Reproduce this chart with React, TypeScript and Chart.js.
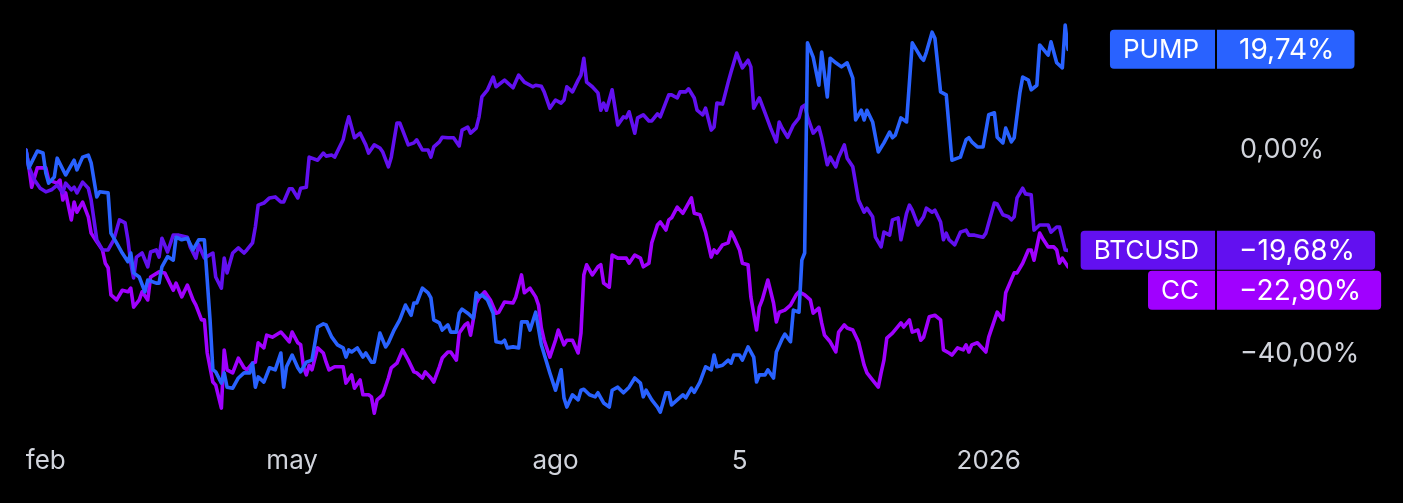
import React, { useEffect, useRef } from "react";
import { Chart, registerables } from "chart.js";

Chart.register(...registerables);

// Day offsets (from late January 2025) and % change for each series
const pumpDays = [0,1,4,6,7,8,10,11,14,17,18,20,22,23,25,26,29,30,32,34,36,37,38,40,42,43,46,47,48,50,52,53,55,57,59,61,63,65,66,67,69,70,71,73,75,77,79,80,81,82,84,86,88,90,91,92,94,96,97,99,101,103,105,106,108,110,112,113,114,115,117,119,120,122,123,125,127,128,130,132,134,136,137,138,140,142,143,144,146,147,149,150,152,153,154,156,158,159,160,161,163,165,166,168,169,170,172,174,175,177,178,180,182,185,187,189,190,191,193,195,196,197,199,201,202,204,206,207,209,211,213,215,217,218,219,221,223,224,226,227,228,230,232,233,235,236,238,240,242,243,244,246,248,249,250,252,253,255,257,258,259,261,262,264,265,267,268,270,271,273,274,275,276,278,280,281,283,284,286,288,290,292,293,295,296,297,299,301,303,305,306,307,309,311,313,316,317,318,320,321,323,325,327,329,330,332,333,334,336,338,340,342,343,345,346,348,349,351,352,354,355,357,358,361,362,364,366,367,368];
const pumpValues = [0,-3.5,-0.2,-0.6,-4.5,-6.5,-5.3,-1.6,-4.9,-2.0,-3.9,-1.4,-1.0,-2.5,-9.2,-8.2,-8.4,-16.3,-18.2,-20.2,-21.9,-20.2,-24.1,-24.9,-27.8,-25.5,-26.1,-26.1,-22.9,-20.9,-21.6,-17.1,-17.6,-17.3,-19.6,-17.6,-17.6,-33.3,-43.1,-43.5,-45.7,-43.7,-46.5,-46.7,-44.7,-43.7,-43.7,-41.8,-46.5,-44.5,-45.5,-42.7,-43.1,-39.8,-46.5,-42.5,-40.2,-42.7,-43.5,-41.6,-41.2,-34.7,-34.1,-34.3,-36.7,-38.2,-38.8,-40.6,-39.2,-39.6,-38.8,-40.6,-39.8,-41.6,-41.6,-35.9,-38.6,-37.8,-35.3,-33.3,-30.4,-32.4,-30.0,-30.0,-27.1,-28.0,-29.0,-33.3,-33.9,-35.3,-34.3,-35.7,-35.7,-32.0,-31.2,-32.0,-33.0,-28.0,-28.8,-28.4,-29.4,-32.0,-37.6,-37.8,-37.3,-38.8,-38.6,-38.8,-33.7,-33.7,-35.3,-31.8,-38.2,-43.7,-47.1,-43.1,-48.6,-50.4,-48.0,-49.0,-47.1,-46.9,-48.0,-48.4,-47.6,-49.6,-50.4,-47.1,-46.5,-47.6,-46.5,-44.7,-45.7,-48.4,-47.1,-49.0,-50.4,-51.4,-47.6,-47.6,-50.0,-49.0,-48.0,-48.6,-46.7,-47.5,-45.5,-42.5,-43.1,-40.2,-42.5,-42.2,-41.2,-41.8,-40.2,-40.2,-41.2,-38.6,-40.6,-45.5,-44.1,-44.1,-43.1,-44.7,-39.6,-37.1,-36.1,-37.6,-31.4,-31.8,-21.6,-20.2,21.0,18.2,12.7,19.2,10.4,18.0,17.1,16.3,17.1,14.1,5.9,7.8,5.9,7.8,5.5,-0.4,1.4,3.5,2.4,2.9,6.3,5.5,21.0,18.2,17.6,19.2,23.1,21.9,11.4,10.8,-2.0,-1.6,-1.4,2.0,2.4,1.6,0.6,0.6,6.9,7.3,2.5,1.4,4.3,1.6,2.4,11.2,14.3,13.7,11.8,12.7,20.6,18.6,21.2,17.1,16.1,24.5,19.74];

const btcDays = [0,1,3,5,7,9,11,13,14,16,17,18,20,22,23,24,25,27,29,31,33,35,36,37,38,39,41,43,44,46,47,48,50,52,54,57,58,60,61,63,66,67,69,70,71,73,75,77,78,80,81,82,84,86,88,90,91,93,94,96,97,99,100,103,105,106,108,109,112,113,114,116,118,120,121,123,125,126,128,129,131,132,133,135,137,138,140,142,143,144,146,147,149,151,153,154,156,157,159,160,161,163,165,166,169,172,174,176,179,180,182,183,185,187,189,190,191,193,195,196,197,198,200,202,203,204,205,207,209,211,212,213,215,216,218,220,221,223,224,226,227,228,230,231,233,234,236,237,239,240,242,243,244,246,248,249,251,253,255,256,257,259,261,263,265,266,267,269,271,273,274,275,276,278,280,281,283,284,286,287,289,290,292,294,296,297,299,300,302,303,305,306,308,309,311,312,313,315,317,318,320,321,323,324,325,326,328,330,332,333,335,338,339,340,342,343,345,347,348,349,350,352,353,355,356,358,361,362,364,365,367,368];
const btcValues = [0,-3.3,-5.9,-7.5,-8.2,-7.8,-6.9,-8.4,-6.5,-7.8,-7.3,-8.4,-6.3,-7.5,-9.8,-13.7,-17.6,-19.6,-19.6,-17.6,-13.7,-14.3,-17.6,-22.2,-25.1,-21.0,-20.2,-22.9,-20.0,-19.6,-21.0,-17.3,-20.0,-16.7,-16.7,-17.1,-19.0,-21.2,-18.6,-21.2,-20.2,-24.9,-27.1,-21.2,-24.1,-20.2,-19.2,-20.2,-19.6,-18.2,-15.1,-10.8,-10.4,-9.4,-9.2,-10.2,-10.2,-7.6,-7.6,-9.4,-7.5,-7.3,-1.4,-2.0,-0.6,-1.2,-1.0,-1.4,2.0,4.5,6.5,2.4,3.3,1.0,-0.6,1.0,0.4,-0.4,-3.3,-1.4,5.3,5.3,3.9,1.0,1.4,2.0,0.0,0.0,-1.4,0.6,1.6,2.5,2.4,2.4,0.8,3.9,4.5,3.3,4.3,6.5,10.4,11.8,14.3,12.4,13.7,12.2,14.7,13.3,12.4,12.7,12.5,11.4,8.2,9.8,9.2,9.8,12.4,11.4,13.7,14.7,18.0,13.3,12.4,11.2,7.8,9.2,7.8,11.8,4.9,6.5,6.3,7.5,3.3,6.3,6.9,5.7,5.7,7.1,6.5,9.4,10.8,10.8,10.2,11.4,11.4,12.0,10.2,7.8,6.9,8.2,3.9,4.5,9.2,9.0,13.3,15.3,19.0,16.1,17.6,16.3,8.2,10.2,7.3,4.3,1.6,5.5,4.3,2.5,4.9,6.3,8.4,8.8,6.5,3.3,4.5,2.4,-2.9,-1.4,-3.3,-1.4,1.0,-1.6,-3.3,-9.8,-12.2,-11.4,-13.1,-17.1,-19.0,-16.1,-16.7,-13.7,-13.3,-17.6,-12.4,-10.8,-11.8,-14.7,-13.1,-11.4,-12.2,-11.8,-14.1,-17.6,-16.3,-17.6,-18.6,-16.1,-15.7,-16.7,-16.7,-17.1,-16.3,-14.3,-10.4,-10.6,-12.7,-13.1,-13.7,-13.1,-9.4,-7.5,-8.6,-8.8,-15.7,-14.7,-14.7,-16.1,-15.1,-15.1,-19.6,-19.68];

const ccDays = [0,1,2,4,7,8,11,12,13,14,16,17,18,20,22,23,25,27,28,29,30,32,34,36,37,38,40,41,43,44,47,49,52,53,55,57,59,60,62,63,64,66,67,69,70,71,73,75,77,78,80,81,82,84,85,87,90,91,93,94,96,97,98,99,100,101,103,105,106,107,109,112,113,115,116,118,119,121,122,123,124,126,128,129,131,133,135,137,138,140,141,143,144,146,147,149,150,152,153,155,156,157,159,160,162,164,166,167,169,172,173,175,176,178,180,181,182,183,185,187,188,190,191,193,195,196,197,198,200,202,203,204,206,207,209,212,213,215,217,218,220,221,223,224,226,227,228,230,232,233,235,236,238,240,242,243,244,246,248,249,250,252,253,255,256,258,259,260,262,264,265,266,268,270,272,273,275,277,278,280,281,282,284,286,287,289,290,292,294,296,297,299,301,302,303,304,306,309,310,312,313,315,316,317,319,321,323,324,326,327,329,331,332,333,334,336,339,340,343,345,346,349,350,352,354,355,356,358,359,361,363,364,365,366,368];
const ccValues = [0,-3.3,-7.3,-3.5,-3.5,-5.9,-6.5,-5.9,-9.8,-8.4,-13.7,-10.2,-12.2,-10.2,-13.1,-16.3,-18.0,-19.6,-22.2,-23.1,-28.4,-29.4,-27.5,-27.8,-27.1,-30.8,-29.4,-27.8,-29.4,-24.9,-23.9,-24.1,-27.5,-26.1,-28.8,-26.5,-29.4,-30.4,-33.3,-33.3,-39.8,-45.5,-46.1,-50.6,-39.2,-43.1,-43.7,-40.8,-42.7,-43.1,-41.8,-41.6,-37.8,-38.8,-36.3,-36.7,-35.7,-36.3,-37.6,-35.7,-37.8,-38.2,-42.5,-44.1,-42.2,-43.1,-38.8,-39.8,-41.6,-43.1,-42.5,-42.5,-45.7,-44.1,-46.7,-45.1,-48.0,-48.0,-48.4,-51.6,-49.0,-48.0,-44.7,-42.7,-41.8,-39.2,-41.2,-43.5,-43.7,-44.7,-43.5,-44.7,-45.5,-42.5,-40.8,-39.6,-39.6,-41.2,-35.9,-34.3,-33.9,-36.3,-30.0,-29.0,-27.8,-29.4,-32.0,-31.8,-29.8,-30.0,-28.8,-24.5,-28.0,-27.1,-28.8,-30.4,-34.9,-37.3,-40.6,-37.3,-35.3,-38.2,-37.3,-37.3,-39.8,-35.9,-24.5,-22.5,-24.5,-22.9,-22.5,-26.1,-26.9,-20.6,-21.2,-21.2,-22.2,-20.6,-21.2,-22.9,-22.2,-18.2,-14.7,-14.1,-15.7,-13.7,-13.3,-11.2,-12.4,-11.4,-9.4,-12.4,-12.7,-16.1,-21.0,-19.6,-20.2,-18.6,-18.2,-16.1,-17.1,-19.6,-22.2,-22.5,-28.8,-35.3,-30.8,-29.4,-25.5,-30.0,-33.7,-31.8,-31.4,-30.4,-28.4,-27.8,-28.4,-29.4,-32.0,-31.0,-33.9,-36.3,-37.6,-39.6,-35.7,-34.3,-34.9,-35.3,-37.6,-42.2,-43.7,-45.1,-46.5,-43.7,-41.2,-36.9,-35.9,-33.9,-34.7,-33.3,-35.7,-35.3,-37.3,-36.7,-32.7,-32.4,-33.3,-39.2,-39.8,-40.2,-38.8,-39.2,-38.2,-39.6,-38.2,-37.8,-39.6,-36.7,-31.8,-33.3,-28.0,-24.1,-24.1,-22.2,-19.6,-19.6,-21.6,-16.3,-17.3,-19.0,-19.0,-19.6,-22.2,-21.2,-22.9];

const seriesNames = ["PUMP", "BTCUSD", "CC"];
const seriesColors = ["#2962FF", "#6210F0", "#A000FF"];

const xTickDays = [7, 94, 187, 252, 340];
const xTickLabels = ["feb", "may", "ago", "5", "2026"];
const yTickValues = [20, 0, -20, -40];

const FONT = "Inter, 'Noto Sans', sans-serif";
const TICK_COLOR = "#d1d4dc";

const fmtPct = (v: number) =>
  (v < 0 ? "\u2212" : "") + Math.abs(v).toFixed(2).replace(".", ",") + "%";

const lastLabels = {
  id: "lastLabels",
  afterDraw(chart: any) {
    const ctx = chart.ctx as CanvasRenderingContext2D;
    const yScale = chart.scales.y;
    const area = chart.chartArea;
    const nameRight = area.right + 147;
    const valueLeft = nameRight + 2;
    const h = 39;
    const r = 4;
    ctx.save();
    const items = chart.data.datasets
      .map((ds: any) => {
        const last = ds.data[ds.data.length - 1];
        return {
          name: ds.label as string,
          color: ds.borderColor as string,
          value: last.y as number,
          cy: yScale.getPixelForValue(last.y),
        };
      })
      .sort((a: any, b: any) => a.cy - b.cy);
    let prevBottom = -Infinity;
    for (const it of items) {
      let top = it.cy - h / 2;
      if (top < prevBottom + 1) top = prevBottom + 1;
      prevBottom = top + h;
      ctx.font = `26px ${FONT}`;
      const nameW = ctx.measureText(it.name).width;
      ctx.font = `28px ${FONT}`;
      const valText = fmtPct(it.value);
      const valW = ctx.measureText(valText).width;
      const nameBoxW = nameW + 29;
      const valBoxW = valW + 42;
      ctx.fillStyle = it.color;
      ctx.beginPath();
      (ctx as any).roundRect(nameRight - nameBoxW, top, nameBoxW, h, [r, 0, 0, r]);
      ctx.fill();
      ctx.beginPath();
      (ctx as any).roundRect(valueLeft, top, valBoxW, h, [0, r, r, 0]);
      ctx.fill();
      ctx.fillStyle = "#ffffff";
      ctx.textBaseline = "middle";
      ctx.textAlign = "right";
      ctx.font = `26px ${FONT}`;
      ctx.fillText(it.name, nameRight - 16, top + h / 2 + 1);
      ctx.textAlign = "left";
      ctx.font = `28px ${FONT}`;
      ctx.fillText(valText, valueLeft + 22, top + h / 2 + 1);
    }
    ctx.restore();
  },
};

export default function App() {
  const canvasRef = useRef<HTMLCanvasElement | null>(null);

  useEffect(() => {
    const canvas = canvasRef.current;
    if (!canvas) return;
    const mk = (days: number[], vals: number[]) =>
      days.map((d, i) => ({ x: d, y: vals[i] }));
    const allDays = [pumpDays, btcDays, ccDays];
    const allVals = [pumpValues, btcValues, ccValues];
    const chart = new Chart(canvas, {
      type: "line",
      data: {
        datasets: seriesNames.map((name, i) => ({
          label: name,
          data: mk(allDays[i], allVals[i]),
          borderColor: seriesColors[i],
          backgroundColor: seriesColors[i],
          borderWidth: 3.6,
          pointRadius: 0,
          tension: 0,
          borderJoinStyle: "round" as const,
          borderCapStyle: "round" as const,
          fill: false,
        })),
      },
      options: {
        responsive: false,
        animation: false,
        devicePixelRatio: 1,
        layout: { padding: { left: 26, top: 10, right: 0, bottom: 0 } },
        plugins: {
          legend: { display: false },
          tooltip: { enabled: false },
        },
        scales: {
          x: {
            type: "linear",
            min: 0,
            max: 368,
            grid: { display: false, drawTicks: false },
            border: { display: false },
            ticks: {
              autoSkip: false,
              maxRotation: 0,
              padding: 16,
              color: TICK_COLOR,
              font: { family: FONT, size: 26 },
              callback: (v: any) => {
                const idx = xTickDays.indexOf(Number(v));
                return idx >= 0 ? xTickLabels[idx] : "";
              },
            },
            afterBuildTicks: (s: any) => {
              s.ticks = xTickDays.map((v) => ({ value: v }));
            },
            afterFit: (s: any) => {
              s.height = 73;
              s.paddingLeft = 0;
              s.paddingRight = 0;
            },
          },
          y: {
            type: "linear",
            position: "right",
            min: -54.9,
            max: 27.45,
            grid: { display: false, drawTicks: false },
            border: { display: false },
            ticks: {
              padding: 172,
              color: TICK_COLOR,
              font: { family: FONT, size: 27 },
              callback: (v: any) => fmtPct(Number(v)),
            },
            afterBuildTicks: (s: any) => {
              s.ticks = yTickValues.map((v) => ({ value: v }));
            },
            afterFit: (s: any) => {
              s.width = 335;
              s.paddingTop = 0;
              s.paddingBottom = 0;
            },
          },
        },
      },
      plugins: [lastLabels],
    });
    return () => chart.destroy();
  }, []);

  return (
    <div
      style={{
        position: "fixed",
        left: 0,
        top: 0,
        width: 1403,
        height: 503,
        background: "#000",
        overflow: "hidden",
      }}
    >
      <canvas ref={canvasRef} width={1403} height={503} style={{ display: "block" }} />
    </div>
  );
}
